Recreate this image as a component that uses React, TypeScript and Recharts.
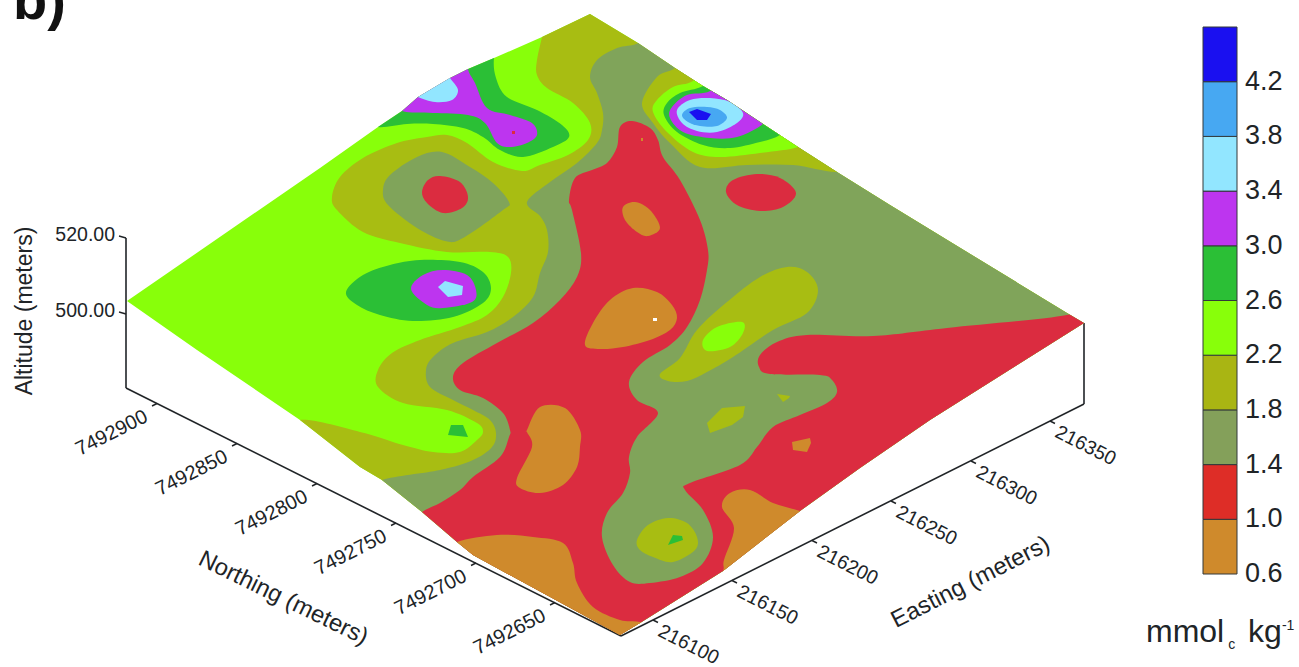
import { Bar, BarChart, Scatter, ScatterChart, XAxis, YAxis } from "recharts";

const WIDTH = 1299;
const HEIGHT = 667;
const FONT = "Liberation Sans, Arial, sans-serif";
const INK = "#202427";

const LIME = "#88ff0a";
const OLIVE = "#a8bd12";
const GREY = "#80a45a";
const RED = "#db2c40";
const ORANGE = "#cf8a2c";
const GREEN = "#2bbf36";
const PURPLE = "#bd35ef";
const PALE = "#92e6ff";
const SKY = "#47a8f2";
const BLUE = "#1a10f0";

// contour outlines in plot units
const surface = [[127,301],[197,350],[300,420],[360,467],[382,480],[422,512],[457,542],[473,555],[620,635],[640,623],[723,571],[800,511],[860,468],[930,420],[1084,323],[1067,313],[890,205],[837,172],[798,147],[763,124],[727,100],[703,86],[675,68],[638,43],[590,14],[542,37],[494,58],[468,69],[450,78],[418,97],[402,111],[378,127],[320,168]];

const oliveMain = [[548,10],[542,37],[537,60],[537,75],[547,88],[573,103],[590,123],[588,140],[568,155],[540,165],[522,171],[493,162],[467,143],[447,135],[427,137],[397,143],[363,158],[340,177],[332,197],[337,210],[363,232],[400,243],[447,252],[490,252],[508,257],[511,273],[503,297],[487,315],[460,327],[420,340],[392,353],[378,370],[378,387],[403,403],[447,410],[477,423],[483,432],[477,440],[460,452],[433,452],[403,445],[360,432],[300,420],[280,440],[300,660],[700,660],[1290,400],[1290,10],[600,5]];
const greyMain = [[655,25],[638,43],[617,48],[597,60],[590,77],[597,93],[603,113],[602,130],[597,143],[577,163],[550,182],[527,202],[540,216],[547,230],[548,252],[540,273],[533,297],[513,317],[487,332],[453,343],[433,357],[426,370],[430,387],[453,400],[473,410],[490,420],[496,433],[492,447],[473,460],[440,470],[382,480],[365,495],[400,660],[1290,660],[1290,5],[700,5]];
const greyIsland = [[442,152],[417,157],[390,175],[383,190],[388,205],[417,228],[445,241],[463,238],[503,210],[509,202],[493,183],[470,167]];
const redMain = [[632,121],[620,127],[617,147],[607,163],[592,170],[575,178],[569,200],[572,210],[581,253],[577,277],[560,300],[533,323],[497,343],[463,363],[453,377],[460,390],[483,398],[503,413],[510,430],[509,437],[500,457],[473,477],[460,490],[440,503],[422,512],[405,528],[430,660],[1290,660],[1290,323],[1100,300],[1067,315],[947,328],[873,336],[807,335],[777,342],[760,355],[759,367],[770,374],[820,375],[832,380],[837,392],[827,403],[800,415],[773,427],[757,447],[740,465],[690,483],[685,490],[703,510],[713,537],[703,563],[680,577],[650,583],[630,582],[613,565],[602,537],[607,513],[623,493],[630,473],[629,457],[637,437],[658,413],[637,400],[629,382],[643,362],[670,345],[687,327],[700,300],[707,270],[708,250],[700,220],[680,180],[663,157],[658,140],[650,128]];
const redLeft = [[422,192],[428,180],[440,176],[460,182],[468,197],[462,208],[443,213],[427,203]];
const redRight = [[726,192],[733,180],[757,174],[780,178],[796,193],[783,207],[760,211],[737,205]];

const orangeTop = [[623,207],[635,202],[650,210],[660,228],[648,236],[637,232],[625,220]];
const orangeMid = [[585,345],[593,323],[610,300],[633,288],[657,292],[672,305],[677,318],[670,330],[650,340],[623,347],[600,349]];
const orangeLow = [[527,430],[540,407],[565,408],[580,430],[580,447],[577,467],[563,485],[540,493],[520,488],[517,478],[532,447],[527,432]];
const orangeCorner = [[440,555],[457,542],[497,535],[533,537],[563,543],[573,563],[577,583],[593,607],[620,620],[640,622],[660,630],[622,660],[470,600]];
const orangeEdge = [[712,590],[723,571],[724,560],[734,528],[722,507],[730,493],[750,490],[773,503],[800,511],[820,520],[770,575]];
const orangeSmall = [[792,442],[810,438],[811,443],[807,452],[793,450]];

const oliveLong = [[660,374],[680,358],[697,330],[727,302],[760,277],[787,267],[807,272],[818,290],[807,313],[773,330],[733,357],[707,372],[687,381],[668,381]];
const limeLong = [[703,340],[717,327],[742,322],[743,333],[730,347],[707,351]];
const oliveSmallA = [[707,423],[722,408],[745,406],[743,417],[732,425],[710,433]];
const oliveSmallB = [[777,394],[790,396],[789,398],[783,402]];
const oliveRound = [[637,540],[648,525],[668,518],[687,523],[697,537],[695,550],[673,562],[653,557],[640,550]];
const greenRound = [[668,545],[673,535],[682,536],[683,540]];
const greenSpot = [[448,435],[451,425],[463,425],[468,437]];

const greenOval = [[346,292],[363,275],[390,265],[420,260],[460,262],[483,272],[491,288],[483,303],[453,317],[413,321],[380,315],[357,305]];
const purpleOval = [[411,289],[423,275],[443,270],[467,275],[476,290],[472,302],[443,308],[427,305]];
const paleOval = [[438,287],[445,281],[463,286],[462,295],[448,297]];

const greenBand = [[500,40],[494,58],[496,78],[507,97],[537,110],[562,125],[569,137],[553,147],[523,157],[500,150],[483,137],[463,128],[433,124],[407,124],[378,127],[362,118],[440,50]];
const purpleBand = [[470,52],[468,69],[475,83],[487,108],[510,115],[532,123],[537,135],[527,143],[510,147],[497,143],[485,123],[468,115],[433,113],[402,111],[388,98],[440,60]];
const paleBand = [[446,70],[450,78],[458,90],[452,100],[435,102],[418,97],[408,90],[430,65]];

const olivePeak = [[690,50],[675,68],[657,77],[642,103],[653,123],[670,143],[700,167],[747,165],[793,165],[837,172],[852,160],[740,70]];
const limePeak = [[712,62],[693,81],[673,87],[657,100],[653,112],[667,132],[693,152],[720,157],[760,153],[798,147],[812,135],[750,80]];
const greenPeak = [[722,70],[703,86],[680,93],[667,103],[664,115],[677,132],[703,145],[730,148],[760,142],[780,135],[796,120],[750,80]];
const purplePeak = [[725,72],[710,91],[687,95],[672,107],[670,118],[683,132],[710,138],[737,137],[763,124],[778,105],[745,80]];
const palePeak = [[677,110],[690,100],[710,98],[730,102],[743,113],[737,123],[717,132],[697,131],[682,123]];
const skyPeak = [[682,115],[690,108],[707,107],[720,110],[727,118],[717,126],[700,126],[688,122]];
const bluePeak = [[689,112],[697,109],[711,114],[707,120],[697,120]];

const speckRed = [[512,131],[515,131],[515,134],[512,134]];
const speckOrange = [[641,138],[643,138],[643,141],[641,141]];
const speckWhite = [[653,318],[657,318],[657,321],[653,321]];

// paint order, lowest first
const layers = [
  { pts: oliveMain, color: OLIVE, smooth: true },
  { pts: greyMain, color: GREY, smooth: true },
  { pts: greyIsland, color: GREY, smooth: true },
  { pts: redMain, color: RED, smooth: true },
  { pts: redLeft, color: RED, smooth: true },
  { pts: redRight, color: RED, smooth: true },
  { pts: orangeTop, color: ORANGE, smooth: true },
  { pts: orangeMid, color: ORANGE, smooth: true },
  { pts: orangeLow, color: ORANGE, smooth: true },
  { pts: orangeCorner, color: ORANGE, smooth: true },
  { pts: orangeEdge, color: ORANGE, smooth: true },
  { pts: orangeSmall, color: ORANGE, smooth: false },
  { pts: oliveLong, color: OLIVE, smooth: true },
  { pts: limeLong, color: LIME, smooth: true },
  { pts: oliveSmallA, color: OLIVE, smooth: false },
  { pts: oliveSmallB, color: OLIVE, smooth: false },
  { pts: oliveRound, color: OLIVE, smooth: true },
  { pts: greenRound, color: GREEN, smooth: false },
  { pts: greenSpot, color: GREEN, smooth: false },
  { pts: greenOval, color: GREEN, smooth: true },
  { pts: purpleOval, color: PURPLE, smooth: true },
  { pts: paleOval, color: PALE, smooth: false },
  { pts: greenBand, color: GREEN, smooth: true },
  { pts: purpleBand, color: PURPLE, smooth: true },
  { pts: paleBand, color: PALE, smooth: true },
  { pts: olivePeak, color: OLIVE, smooth: true },
  { pts: limePeak, color: LIME, smooth: true },
  { pts: greenPeak, color: GREEN, smooth: true },
  { pts: purplePeak, color: PURPLE, smooth: true },
  { pts: palePeak, color: PALE, smooth: true },
  { pts: skyPeak, color: SKY, smooth: true },
  { pts: bluePeak, color: BLUE, smooth: false },
  { pts: speckRed, color: RED, smooth: false },
  { pts: speckOrange, color: ORANGE, smooth: false },
  { pts: speckWhite, color: "#ffffff", smooth: false },
];

// box edges
const altitudeAxis = [[126,238],[126,388]];
const northingAxis = [[126,388],[621,636]];
const eastingAxis = [[621,636],[1084,404]];
const cornerEdge = [[1084,323],[1084,404]];

const northingLabels = ["7492900","7492850","7492800","7492750","7492700","7492650"];
const northingTicks = [[157,403.5],[237,443.5],[317,483.5],[396,523],[476,563],[555,602.5]];
const eastingLabels = ["216100","216150","216200","216250","216300","216350"];
const eastingTicks = [[653,620],[732,580.5],[812,540.5],[891,501],[971,461],[1050,421]];
const altitudeLabels = ["520.00","500.00"];
const altitudeTicks = [[126,238],[126,314]];

// colour scale
const bandLimits = [0.6,1.0,1.4,1.8,2.2,2.6,3.0,3.4,3.8,4.2,4.6];
const bandColors = [ORANGE,"#de2d27","#84a05a","#a9b513",LIME,GREEN,PURPLE,PALE,SKY,BLUE];
const scaleTicks = [0.6,1.0,1.4,1.8,2.2,2.6,3.0,3.4,3.8,4.2];

const scaleRow: Record<string, number | string> = { name: "mmol" };
bandColors.forEach((_, i) => {
  scaleRow[`band${i}`] = bandLimits[i + 1] - bandLimits[i];
});

const rows = (pts: number[][]) => pts.map(([x, y]) => ({ x, y }));
const noMark = () => null;

function closedPath(points: any[], smooth: boolean) {
  const n = points.length;
  let d = `M${points[0].x},${points[0].y}`;
  for (let i = 0; i < n; i++) {
    const p0 = points[(i - 1 + n) % n];
    const p1 = points[i];
    const p2 = points[(i + 1) % n];
    const p3 = points[(i + 2) % n];
    if (smooth) {
      const c1x = p1.x + (p2.x - p0.x) / 6;
      const c1y = p1.y + (p2.y - p0.y) / 6;
      const c2x = p2.x - (p3.x - p1.x) / 6;
      const c2y = p2.y - (p3.y - p1.y) / 6;
      d += `C${c1x},${c1y} ${c2x},${c2y} ${p2.x},${p2.y}`;
    } else {
      d += `L${p2.x},${p2.y}`;
    }
  }
  return d + "Z";
}

function region(pts: number[][], color: string, smooth: boolean, key: string) {
  return (
    <Scatter
      key={key}
      data={rows(pts)}
      shape={noMark}
      isAnimationActive={false}
      line={(p: any) => (
        <path d={closedPath(p.points, smooth)} fill={color} stroke="none" clipPath="url(#surface-clip)" />
      )}
    />
  );
}

function stroke(pts: number[][], width: number, key: string) {
  return (
    <Scatter
      key={key}
      data={rows(pts)}
      shape={noMark}
      isAnimationActive={false}
      line={(p: any) => (
        <path d={`M${p.points[0].x},${p.points[0].y}L${p.points[1].x},${p.points[1].y}`} stroke={INK} strokeWidth={width} fill="none" />
      )}
    />
  );
}

function labels(
  labelRows: { x: number; y: number; label: string }[],
  size: number,
  angle: number,
  anchor: string,
  key: string,
) {
  return (
    <Scatter
      key={key}
      data={labelRows}
      isAnimationActive={false}
      shape={(p: any) => (
        <text
          x={p.cx}
          y={p.cy}
          transform={`rotate(${angle} ${p.cx} ${p.cy})`}
          textAnchor={anchor as any}
          dominantBaseline="central"
          fontFamily={FONT}
          fontSize={size}
          fill={INK}
        >
          {p.payload.label}
        </text>
      )}
    />
  );
}

export default function App() {
  return (
    <div style={{ position: "absolute", left: 0, top: 0, width: WIDTH, height: HEIGHT, background: "#fff" }}>
      <div style={{ position: "absolute", left: 0, top: 0 }}>
        <ScatterChart width={WIDTH} height={HEIGHT} margin={{ top: 0, right: 0, bottom: 0, left: 0 }}>
          <XAxis type="number" dataKey="x" domain={[0, WIDTH]} hide />
          <YAxis type="number" dataKey="y" domain={[0, HEIGHT]} reversed hide />

          {stroke(altitudeAxis, 1.6, "axis-alt")}
          {stroke(northingAxis, 1.6, "axis-north")}
          {stroke(eastingAxis, 1.6, "axis-east")}
          {stroke(cornerEdge, 1.6, "axis-corner")}
          {altitudeTicks.map(([x, y], i) => stroke([[x, y], [x - 7, y - 2]], 1.4, `alt-${i}`))}
          {northingTicks.map(([x, y], i) => stroke([[x, y], [x - 5, y + 2.5]], 1.4, `north-${i}`))}
          {eastingTicks.map(([x, y], i) => stroke([[x, y], [x + 5, y + 2.5]], 1.4, `east-${i}`))}

          <Scatter
            data={rows(surface)}
            shape={noMark}
            isAnimationActive={false}
            line={(p: any) => {
              const d = closedPath(p.points, false);
              return (
                <g>
                  <clipPath id="surface-clip">
                    <path d={d} />
                  </clipPath>
                  <path d={d} fill={LIME} stroke="none" />
                </g>
              );
            }}
          />
          {layers.map((l, i) => region(l.pts, l.color, l.smooth, `layer-${i}`))}

          {labels(altitudeLabels.map((label, i) => ({ x: 115, y: altitudeTicks[i][1] - 4, label })), 19.5, 0, "end", "alt-labels")}
          {labels(northingLabels.map((label, i) => ({ x: northingTicks[i][0] - 11, y: northingTicks[i][1] + 11, label })), 20, -27, "end", "north-labels")}
          {labels(eastingLabels.map((label, i) => ({ x: eastingTicks[i][0] + 7, y: eastingTicks[i][1] + 9, label })), 19.5, 27, "start", "east-labels")}
          {labels([{ x: 24, y: 311, label: "Altitude (meters)" }], 23, -90, "middle", "alt-title")}
          {labels([{ x: 284, y: 597, label: "Northing (meters)" }], 23.8, 26, "middle", "north-title")}
          {labels([{ x: 970, y: 581, label: "Easting (meters)" }], 23.8, -27, "middle", "east-title")}

          <Scatter
            data={[{ x: 13, y: 19, label: "b)" }]}
            isAnimationActive={false}
            shape={(p: any) => (
              <text x={p.cx} y={p.cy} fontFamily={FONT} fontSize={56} fontWeight="bold" fill="#111">
                {p.payload.label}
              </text>
            )}
          />
          <Scatter
            data={[{ x: 1146, y: 642, label: "mmol" }]}
            isAnimationActive={false}
            shape={(p: any) => (
              <text x={p.cx} y={p.cy} fontFamily={FONT} fontSize={32} fill={INK}>
                {p.payload.label}
                <tspan fontSize={14} dx={4} dy={7}>c</tspan>
                <tspan dx={4} dy={-7}> kg</tspan>
                <tspan fontSize={14} dy={-12}>-1</tspan>
              </text>
            )}
          />
        </ScatterChart>
      </div>

      <div style={{ position: "absolute", left: 1190, top: 0 }}>
        <BarChart
          width={109}
          height={HEIGHT}
          data={[scaleRow]}
          barCategoryGap={0}
          margin={{ top: 27, right: 0, bottom: 93, left: 13 }}
        >
          <XAxis dataKey="name" hide />
          <YAxis
            orientation="right"
            width={62}
            domain={[0, bandLimits[10] - bandLimits[0]]}
            ticks={scaleTicks.map((t) => t - bandLimits[0])}
            interval={0}
            axisLine={false}
            tickLine={false}
            tick={(p: any) => (
              <text x={p.x} y={p.y - 1} dominantBaseline="central" fontFamily={FONT} fontSize={27} fill={INK}>
                {(p.payload.value + bandLimits[0]).toFixed(1)}
              </text>
            )}
          />
          {bandColors.map((color, i) => (
            <Bar
              key={color}
              dataKey={`band${i}`}
              stackId="scale"
              fill={color}
              stroke="#33383a"
              strokeWidth={1}
              isAnimationActive={false}
            />
          ))}
        </BarChart>
      </div>
    </div>
  );
}
